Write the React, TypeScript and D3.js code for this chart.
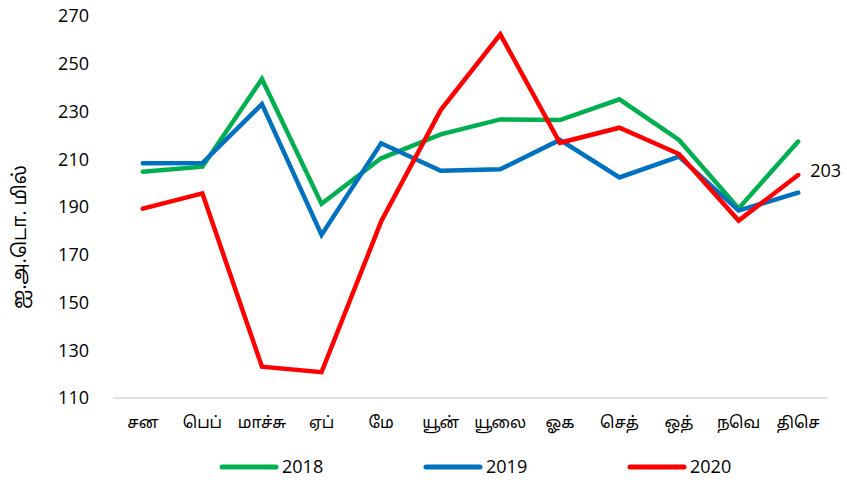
import React from "react";
import * as d3 from "d3";

const categories = ["சன", "பெப்", "மாச்சு", "ஏப்", "மே", "யூன்", "யூலை", "ஓக", "செத்", "ஒத்", "நவெ", "திசெ"];
const series2018 = [204.8, 206.9, 243.6, 191.3, 210.4, 220.4, 226.7, 226.4, 235.1, 218.1, 189.4, 217.4];
const series2019 = [208.3, 208.4, 233.1, 178.3, 216.7, 205.2, 205.8, 218.1, 202.4, 211.1, 188.5, 196.0];
const series2020 = [189.3, 195.7, 123.1, 120.8, 183.9, 230.6, 262.3, 216.9, 223.2, 212.2, 184.3, 203.4];
const yTicks = [110, 130, 150, 170, 190, 210, 230, 250, 270];
const seriesNames = ["2018", "2019", "2020"];
const seriesColors = ["#00B050", "#0070C0", "#FF0000"];
const yTitle = "ஐ.அ.டொ. மில்";

const W = 847;
const H = 488;
const left = 113;
const right = 828;
const top = 16;
const bottom = 398;

export default function App() {
  const x = d3.scaleBand<string>().domain(categories).range([left, right]);
  const y = d3.scaleLinear().domain([110, 270]).range([bottom, top]);
  const cx = (c: string) => (x(c) as number) + x.bandwidth() / 2;
  const all = [series2018, series2019, series2020];
  const line = d3
    .line<number>()
    .x((_, i) => cx(categories[i]))
    .y((v) => y(v));
  const numFont = "'Open Sans', 'Noto Sans', sans-serif";
  const tamilFont = "Latha, 'Noto Sans Tamil', 'Noto Serif Tamil', 'Lohit Tamil', serif";
  const legendX = [222, 426, 630];
  const last = series2020[series2020.length - 1];
  return (
    <svg width={W} height={H} style={{ position: "absolute", left: 0, top: 0, background: "#fff" }}>
      <line x1={left} x2={right} y1={bottom} y2={bottom} stroke="#d9d9d9" strokeWidth={1.5} />
      {yTicks.map((t) => (
        <text key={t} x={89} y={y(t)} dy="0.35em" textAnchor="end" fontFamily={numFont} fontSize={18} fill="#000">
          {t}
        </text>
      ))}
      <text
        transform={`translate(21,237) rotate(-90)`}
        textAnchor="middle"
        dominantBaseline="central"
        fontFamily={tamilFont}
        fontSize={19}
        fill="#000"
      >
        {yTitle}
      </text>
      {categories.map((c) => (
        <text key={c} x={cx(c)} y={428} textAnchor="middle" fontFamily={tamilFont} fontSize={16} fill="#000">
          {c}
        </text>
      ))}
      {all.map((s, i) => (
        <path
          key={i}
          d={line(s) as string}
          fill="none"
          stroke={seriesColors[i]}
          strokeWidth={4.5}
          strokeLinejoin="miter"
          strokeLinecap="round"
        />
      ))}
      <text
        x={cx(categories[11]) + 12}
        y={y(last) - 4}
        dy="0.35em"
        fontFamily={numFont}
        fontSize={18}
        fill="#000"
      >
        {Math.round(last)}
      </text>
      {seriesNames.map((n, i) => (
        <g key={n}>
          <line
            x1={legendX[i]}
            x2={legendX[i] + 54}
            y1={467}
            y2={467}
            stroke={seriesColors[i]}
            strokeWidth={5}
            strokeLinecap="round"
          />
          <text x={legendX[i] + 60} y={467} dy="0.35em" fontFamily={numFont} fontSize={18} fill="#000">
            {n}
          </text>
        </g>
      ))}
    </svg>
  );
}
